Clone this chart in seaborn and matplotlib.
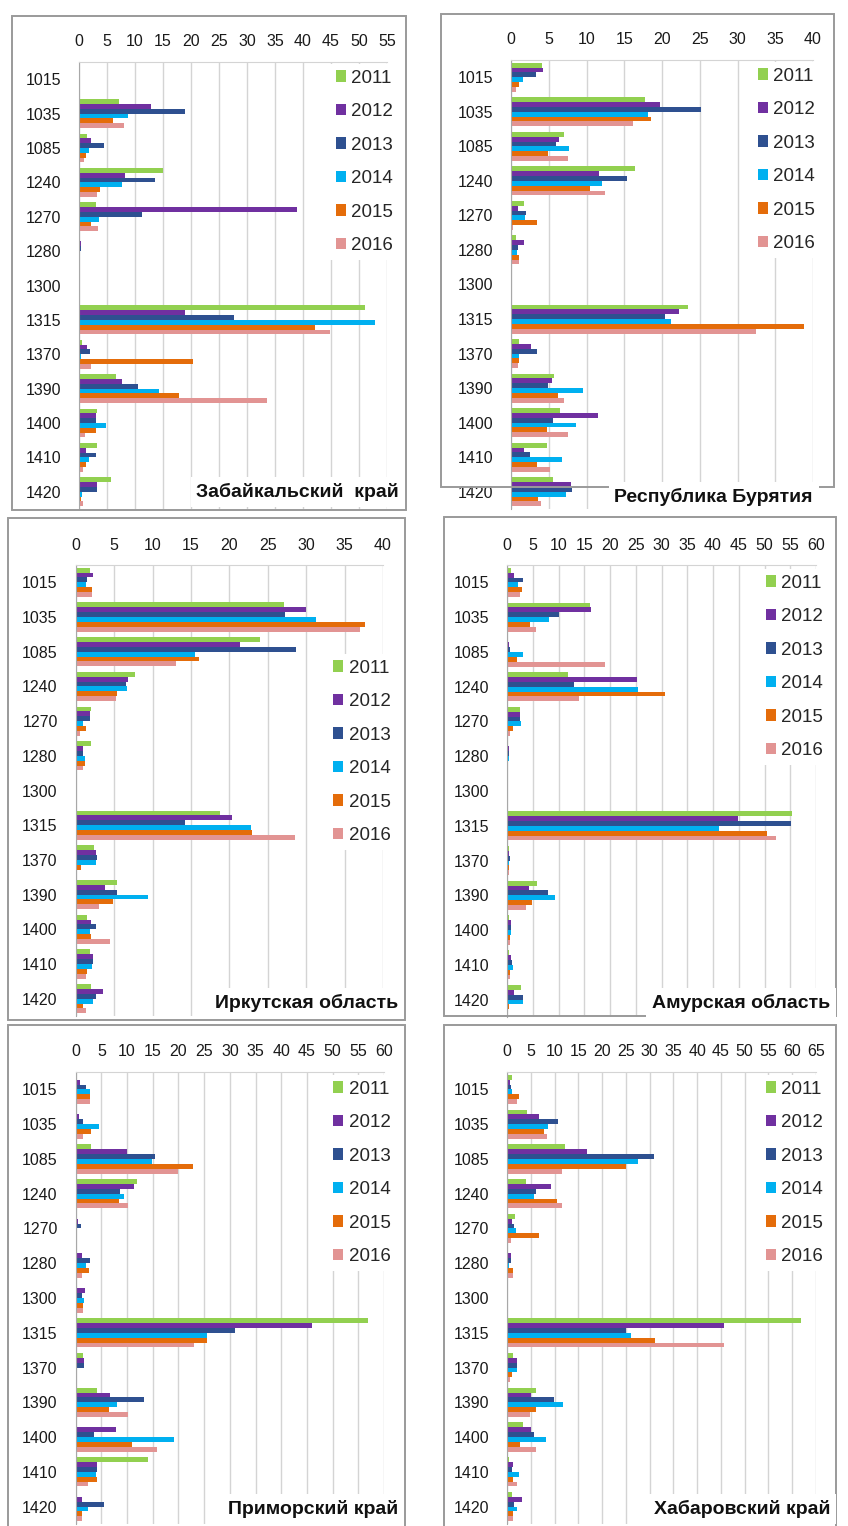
import numpy as np
import pandas as pd
import seaborn as sns
import matplotlib.pyplot as plt
from matplotlib.patches import Rectangle

# Коды и годы
CODES = ['1015', '1035', '1085', '1240', '1270', '1280', '1300',
         '1315', '1370', '1390', '1400', '1410', '1420']
YEARS = ['2011', '2012', '2013', '2014', '2015', '2016']
COLORS = ['#92D050', '#7030A0', '#2E5090', '#00B0F0', '#E46C0A', '#E29493']

# Значения по регионам: одна строка на год (2011..2016), по кодам
ZABAIKALSKY = [
    [0.2, 7.2, 1.5, 15.0, 3.0, 0.2, 0, 51.0, 0.5, 6.6, 3.3, 3.3, 5.7],
    [0.2, 12.8, 2.1, 8.3, 38.9, 0.3, 0, 19.0, 1.5, 7.7, 3.0, 1.2, 3.3],
    [0.2, 19.0, 4.5, 13.6, 11.2, 0.3, 0, 27.7, 2.0, 10.5, 3.0, 3.0, 3.2],
    [0.2, 8.7, 1.8, 7.7, 3.5, 0.2, 0, 52.9, 0.3, 14.3, 4.9, 1.8, 0.5],
    [0.1, 6.1, 1.2, 3.7, 2.1, 0.1, 0, 42.1, 20.4, 17.8, 3.0, 1.2, 0.4],
    [0.1, 8.0, 0.9, 3.2, 3.4, 0.1, 0, 44.9, 2.1, 33.5, 1.1, 0.8, 0.7],
]
BURYATIA = [
    [4.1, 17.7, 7.0, 16.4, 1.7, 0.6, 0, 23.4, 1.1, 5.7, 6.5, 4.8, 5.5],
    [4.3, 19.7, 6.4, 11.6, 0.9, 1.7, 0, 22.3, 2.6, 5.4, 11.5, 1.7, 8.0],
    [3.3, 25.1, 5.9, 15.4, 2.0, 0.9, 0, 20.4, 3.4, 4.9, 5.5, 2.5, 8.1],
    [1.6, 18.1, 7.7, 12.1, 1.9, 0.8, 0, 21.2, 1.0, 9.5, 8.6, 6.8, 7.3],
    [1.0, 18.5, 4.9, 10.5, 3.5, 1.1, 0, 38.8, 1.0, 6.2, 4.8, 3.4, 3.6],
    [0.6, 16.2, 7.5, 12.4, 0.3, 1.1, 0, 32.5, 0.9, 7.0, 7.5, 5.1, 4.0],
]
IRKUTSK = [
    [1.8, 27.1, 24.0, 7.7, 2.0, 2.0, 0.1, 18.8, 2.4, 5.4, 1.5, 1.8, 2.0],
    [2.3, 30.0, 21.4, 6.8, 1.8, 0.9, 0.1, 20.4, 2.6, 3.8, 2.0, 2.3, 3.6],
    [1.5, 27.3, 28.7, 6.6, 1.8, 0.9, 0.1, 14.2, 2.8, 5.4, 2.7, 2.3, 2.7],
    [1.3, 31.3, 15.5, 6.7, 1.0, 1.2, 0.1, 22.8, 2.6, 9.4, 1.8, 2.1, 2.2],
    [2.1, 37.6, 16.0, 5.4, 1.3, 1.2, 0.1, 23.0, 0.7, 4.9, 2.0, 1.5, 1.0],
    [2.1, 37.0, 13.0, 5.2, 0.5, 0.9, 0.1, 28.5, 0.2, 3.0, 4.5, 1.3, 1.3],
]
AMUR = [
    [0.8, 16.1, 0.2, 11.9, 2.5, 0.1, 0, 55.4, 0.3, 5.8, 0.3, 0.3, 2.8],
    [1.4, 16.4, 0.4, 25.2, 2.6, 0.3, 0, 44.9, 0.4, 4.2, 0.8, 0.8, 1.3],
    [3.1, 10.1, 0.5, 13.0, 2.6, 0.4, 0, 55.1, 0.5, 7.9, 0.8, 1.0, 3.1],
    [2.1, 8.2, 3.2, 25.5, 2.8, 0.3, 0, 41.2, 0.4, 9.3, 0.8, 1.2, 3.2],
    [3.0, 4.4, 1.9, 30.7, 1.2, 0.2, 0, 50.5, 0.3, 4.9, 0.5, 0.6, 0.3],
    [2.5, 5.6, 19.0, 13.9, 0.5, 0.2, 0, 52.3, 0.3, 3.6, 0.5, 0.5, 0.1],
]
PRIMORSKY = [
    [0.3, 0.3, 2.9, 12.0, 0.3, 0.1, 0.2, 56.9, 1.4, 4.2, 0.3, 14.1, 0.2],
    [0.8, 0.7, 9.9, 11.3, 0.5, 1.2, 1.9, 46.0, 1.6, 6.7, 7.8, 4.2, 1.2],
    [2.1, 1.5, 15.5, 8.6, 1.1, 2.8, 1.2, 31.0, 1.6, 13.3, 3.6, 4.2, 5.6],
    [2.7, 4.6, 14.8, 9.4, 0.2, 2.0, 1.6, 25.6, 0.3, 8.1, 19.1, 4.0, 2.3],
    [2.7, 2.9, 22.9, 8.4, 0.1, 2.5, 1.4, 25.6, 0.2, 6.4, 10.9, 4.1, 1.2],
    [2.7, 1.5, 20.0, 10.1, 0.1, 1.2, 1.4, 23.0, 0.1, 10.2, 15.8, 2.3, 1.2],
]
KHABAROVSK = [
    [1.1, 4.2, 12.3, 3.9, 1.6, 0.1, 0.1, 61.8, 1.3, 6.0, 3.4, 0.4, 1.1],
    [0.7, 6.7, 16.9, 9.3, 1.1, 0.8, 0.1, 45.7, 2.2, 5.1, 5.1, 1.3, 3.2],
    [0.8, 10.7, 30.9, 6.2, 1.5, 0.8, 0.1, 25.1, 2.2, 9.8, 5.6, 1.1, 1.5],
    [1.1, 8.6, 27.5, 5.6, 1.8, 0.4, 0.1, 26.0, 2.2, 11.8, 8.1, 2.6, 2.2],
    [2.5, 7.7, 25.1, 10.5, 6.7, 1.3, 0.1, 31.1, 1.1, 6.1, 2.7, 1.3, 1.3],
    [2.0, 8.4, 11.6, 11.5, 0.8, 1.3, 0.1, 45.7, 0.6, 4.8, 6.0, 2.0, 1.3],
]

W, H = 848, 1526

# (данные, заголовок, xmax, рамка осей px, рамка панели px, легенда (x,y) px, заголовок (x,y) px)
PANELS = [
    (ZABAIKALSKY, 'Забайкальский  край', 55, (79, 62, 387, 509), (12, 16, 406, 510), (399, 64), (399, 492)),
    (BURYATIA, 'Республика Бурятия', 40, (511, 60, 813, 509), (441, 14, 834, 487), (821, 62), (813, 497)),
    (IRKUTSK, 'Иркутская область', 40, (75.7, 565, 383, 1016), (8, 518, 405, 1020), (396, 654), (398, 1003)),
    (AMUR, 'Амурская область', 60, (507, 565, 816, 1017), (444, 517, 836, 1016), (829, 569), (830, 1003)),
    (PRIMORSKY, 'Приморский край', 60, (75.7, 1072, 384, 1524), (8, 1025, 405, 1530), (396, 1075), (398, 1509)),
    (KHABAROVSK, 'Хабаровский край', 65, (507, 1072, 816, 1524), (444, 1025, 836, 1530), (829, 1075), (830, 1509)),
]


def to_fig(x0, y0, x1, y1):
    return [x0 / W, 1 - y1 / H, (x1 - x0) / W, (y1 - y0) / H]


sns.set_style('white')
plt.rcParams['font.family'] = ['Liberation Sans', 'DejaVu Sans']

fig = plt.figure(figsize=(W / 100, H / 100), dpi=100)

for values, title, xmax, axbox, frame, legpos, titpos in PANELS:
    fx0, fy0, fx1, fy1 = frame
    fig.patches.append(Rectangle((fx0 / W, 1 - fy1 / H), (fx1 - fx0) / W, (fy1 - fy0) / H,
                                 transform=fig.transFigure, fill=False,
                                 edgecolor='#9a9a9a', linewidth=1.4, zorder=0))

    df = pd.DataFrame({
        'code': np.tile(CODES, len(YEARS)),
        'year': np.repeat(YEARS, len(CODES)),
        'value': np.array(values).ravel(),
    })

    ax = fig.add_axes(to_fig(*axbox))
    sns.barplot(data=df, x='value', y='code', hue='year', order=CODES, hue_order=YEARS,
                palette=COLORS, orient='h', width=0.84, saturation=1, linewidth=0, ax=ax)

    ax.set_xlim(0, xmax)
    ax.set_xticks(range(0, xmax + 1, 5))
    ax.xaxis.tick_top()
    ax.set_xlabel('')
    ax.set_ylabel('')
    ax.grid(axis='x', color='#d4d4d4', linewidth=1)
    ax.set_axisbelow(True)
    ax.tick_params(axis='x', length=0, pad=9, labelsize=11.5, labelcolor='#1a1a1a')
    ax.tick_params(axis='y', length=0, pad=13, labelsize=11.5, labelcolor='#1a1a1a')
    for s in ['right', 'bottom']:
        ax.spines[s].set_visible(False)
    ax.spines['top'].set_color('#d4d4d4')
    ax.spines['left'].set_color('#a8a8a8')
    ax.patch.set_alpha(0)

    handles, labels = ax.get_legend_handles_labels()
    lx, ly = legpos
    leg = ax.legend(handles, labels, loc='upper right', bbox_to_anchor=(lx / W, 1 - ly / H),
                    bbox_transform=fig.transFigure, frameon=True, facecolor='white',
                    edgecolor='none', framealpha=1, fancybox=False, fontsize=13.5,
                    handlelength=0.55, handleheight=0.55, handletextpad=0.3,
                    labelspacing=0.88, borderpad=0.3, borderaxespad=0)

    tx, ty = titpos
    fig.text(tx / W, 1 - ty / H, title, ha='right', va='center', fontsize=14,
             fontweight='bold', color='#111111',
             bbox=dict(facecolor='white', edgecolor='none', pad=4))

fig.savefig('out.png', dpi=100)
